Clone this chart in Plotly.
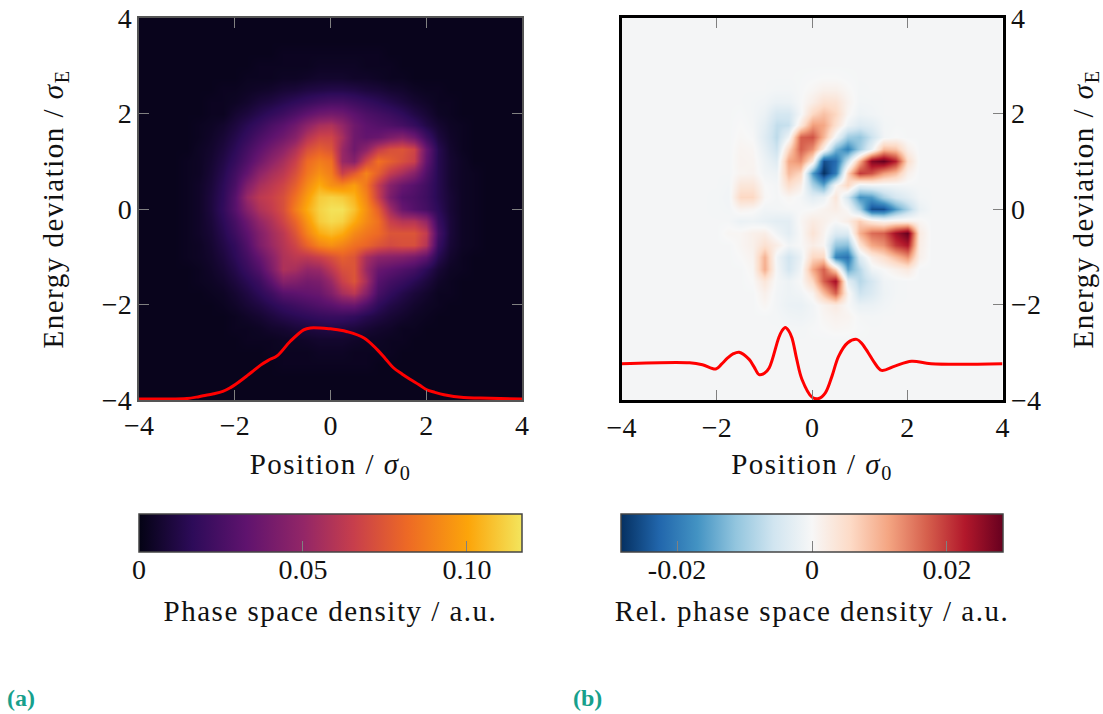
import plotly.graph_objects as go

grid_axis = [i * 0.25 - 4 for i in range(33)]  # -4 .. 4

# phase space density, units of 0.001, rows listed top (y=4) to bottom (y=-4)
density_rows = [
 [2]*33, [2]*33, [2]*33,
 [2,2,2,2,2,2,2, 2,2,2,2,2,3,3,3,3,3,3,3,3,3,2,2,2,2,2, 2,2,2,2,2,2,2],
 [2,2,2,2,2,2,2, 2,2,2,3,3,3,3,3,4,4,4,4,3,3,3,2,2,2,2, 2,2,2,2,2,2,2],
 [2,2,2,2,2,2,2, 2,2,3,3,3,4,4,5,6,6,6,5,5,4,3,3,2,2,2, 2,2,2,2,2,2,2],
 [2,2,2,2,2,2,2, 3,3,4,5,6,8,9,11,12,13,13,12,10,9,7,6,4,3,3, 2,2,2,2,2,2,2],
 [2,2,2,2,2,2,3, 3,4,6,9,11,14,17,20,23,25,25,22,19,16,13,10,7,5,3, 3,2,2,2,2,2,2],
 [2,2,2,2,2,2,3, 3,7,10,14,18,22,27,33,38,40,38,32,27,24,21,17,12,8,4, 3,2,2,2,2,2,2],
 [2,2,2,2,2,3,4, 6,10,15,20,26,31,38,48,56,58,50,38,32,29,27,24,19,12,7, 4,3,2,2,2,2,2],
 [2,2,2,2,2,3,5, 8,13,19,26,32,38,46,60,68,68,56,38,34,36,42,46,38,22,10, 5,3,2,2,2,2,2],
 [2,2,2,2,2,4,6, 10,16,24,32,40,48,58,72,78,74,52,38,48,64,72,74,68,36,14, 6,3,2,2,2,2,2],
 [2,2,2,2,3,4,7, 12,19,28,38,48,56,66,82,88,84,52,46,68,84,78,72,66,34,14, 7,4,2,2,2,2,2],
 [2,2,2,2,3,4,8, 14,23,34,48,56,62,72,86,94,88,66,76,90,78,64,56,46,28,14, 7,4,3,2,2,2,2],
 [2,2,2,2,3,5,9, 16,26,44,56,62,68,78,92,102,94,92,98,86,64,46,36,30,23,14, 7,4,3,2,2,2,2],
 [2,2,2,2,3,5,10, 17,30,52,62,66,72,84,98,110,112,110,104,90,66,42,30,27,22,14, 8,4,3,2,2,2,2],
 [2,2,2,2,3,5,10, 18,30,46,58,64,72,88,102,112,116,116,108,94,78,54,36,29,24,16, 8,4,3,2,2,2,2],
 [2,2,2,2,3,5,9, 16,25,37,50,58,68,80,96,110,114,112,102,92,84,66,60,60,50,20, 9,4,3,2,2,2,2],
 [2,2,2,2,3,5,8, 14,22,32,44,54,62,74,90,102,106,102,92,86,82,74,74,74,64,24, 9,4,3,2,2,2,2],
 [2,2,2,2,3,4,7, 12,18,28,42,52,60,68,80,90,94,90,84,80,74,70,72,72,60,20, 8,4,3,2,2,2,2],
 [2,2,2,2,3,4,6, 10,16,24,34,46,58,62,62,66,72,78,74,56,48,46,44,40,32,14, 6,3,2,2,2,2,2],
 [2,2,2,2,2,3,5, 8,13,20,28,42,58,56,50,52,62,72,74,52,36,32,28,24,16,8, 4,3,2,2,2,2,2],
 [2,2,2,2,2,3,4, 6,10,15,21,32,46,44,40,42,52,66,74,56,30,24,20,15,10,5, 3,2,2,2,2,2,2],
 [2,2,2,2,2,2,3, 4,7,11,16,22,30,32,34,36,44,56,62,46,25,18,13,9,6,3, 3,2,2,2,2,2,2],
 [2,2,2,2,2,2,2, 3,5,8,11,15,19,22,25,28,31,35,36,27,17,12,9,6,4,3, 2,2,2,2,2,2,2],
 [2,2,2,2,2,2,2, 2,3,5,7,10,13,15,17,19,20,20,18,14,11,8,6,4,3,2, 2,2,2,2,2,2,2],
 [2,2,2,2,2,2,2, 2,3,3,4,6,7,9,10,11,12,11,10,8,6,5,3,3,2,2, 2,2,2,2,2,2,2],
 [2,2,2,2,2,2,2, 2,2,3,3,3,4,4,5,6,6,6,5,4,4,3,3,2,2,2, 2,2,2,2,2,2,2],
 [2,2,2,2,2,2,2, 2,2,2,2,3,3,3,3,4,4,4,3,3,3,3,2,2,2,2, 2,2,2,2,2,2,2],
 [2,2,2,2,2,2,2, 2,2,2,2,2,3,3,3,3,3,3,3,3,2,2,2,2,2,2, 2,2,2,2,2,2,2],
 [2]*33, [2]*33, [2]*33,
]

B = -5  # background of the relative density, units of 0.0001
rel_rows = [
 [B]*33, [B]*33, [B]*33, [B]*33, [B]*33,
 [B]*7 + [B,B,B,B,B,B,B,B,-4,-2,0,0,-3,B,B,B,B,B,B] + [B]*7,
 [B]*7 + [B,B,B,B,B,B,-8,-8,-3,5,15,15,3,-6,B,B,B,B,B] + [B]*7,
 [B]*7 + [B,B,B,B,-7,-10,-20,-18,-2,20,45,42,10,-8,-7,B,B,B,B] + [B]*7,
 [B]*7 + [B,B,B,-3,-7,-18,-50,-50,-5,60,85,60,5,-15,-10,B,B,B,B] + [B]*7,
 [B]*7 + [B,B,B,0,-6,-28,-70,-65,30,120,110,45,-15,-40,-30,-8,B,B,B] + [B]*7,
 [B]*7 + [B,B,B,3,-2,-35,-75,-10,170,180,95,-10,-100,-110,-60,-8,0,B,B] + [B]*7,
 [B]*7 + [B,B,B,8,5,-25,-60,60,170,130,15,-130,-190,-100,-20,90,80,15,B] + [B]*7,
 [B]*7 + [B,B,B,10,8,-15,-35,110,130,30,-250,-220,-60,100,260,283,220,50,B] + [B]*7,
 [B]*7 + [B,B,-5,8,10,-10,-15,90,60,-160,-283,-200,60,200,180,120,90,15,B] + [B]*7,
 [B]*7 + [B,B,-8,35,35,0,-6,50,20,-90,-150,0,60,-20,-10,-10,-8,-6,B] + [B]*7,
 [B]*7 + [B,-6,-10,60,60,3,-5,5,-5,-30,-20,35,-50,-170,-160,-90,-50,-30,-8] + [B]*7,
 [B]*7 + [B,-6,-8,10,5,-10,-8,-5,-2,0,10,20,0,-90,-250,-250,-160,-90,-20] + [B]*7,
 [B]*7 + [B,B,-5,-18,-15,-22,-30,-30,5,25,15,0,20,70,30,10,20,20,5] + [B]*7,
 [B]*7 + [B,B,5,5,15,20,-10,-30,0,40,10,-40,-40,100,160,170,240,283,25] + [B]*7,
 [B]*7 + [B,B,B,5,15,45,20,-10,0,20,5,-110,-120,40,110,130,200,230,20] + [B]*7,
 [B]*7 + [B,B,B,0,10,100,-10,-55,-20,60,60,-190,-210,-40,20,50,90,130,15] + [B]*7,
 [B]*7 + [B,B,B,B,5,105,-5,-50,-10,110,170,60,-150,-80,-12,0,15,30,B] + [B]*7,
 [B]*7 + [B,B,B,B,0,35,-5,-15,0,60,170,240,-30,-80,-50,-12,-7,B,B] + [B]*7,
 [B]*7 + [B,B,B,B,B,15,-8,-15,-10,10,90,170,10,-60,-40,-15,-7,B,B] + [B]*7,
 [B]*7 + [B,B,B,B,B,5,-8,-18,-20,-8,10,25,0,-20,-18,-10,B,B,B] + [B]*7,
 [B]*7 + [B,B,B,B,B,B,-6,-12,-14,-8,5,12,8,-5,-7,B,B,B,B] + [B]*7,
 [B]*7 + [B,B,B,B,B,B,B,-6,-7,-3,0,5,3,-3,B,B,B,B,B] + [B]*7,
 [B]*33, [B]*33, [B]*33, [B]*33, [B]*33, [B]*33,
]

profile_a_x = [-4,-3.5,-3,-2.75,-2.6,-2.44,-2.25,-2.09,-1.98,-1.74,-1.6,-1.46,-1.3,-1.11,-0.84,-0.56,-0.42,0,0.15,0.35,0.7,0.97,1.15,1.32,1.5,1.67,1.85,2,2.18,2.37,2.78,3.13,4]
profile_a_y = [-3.98,-3.98,-3.97,-3.93,-3.9,-3.87,-3.82,-3.74,-3.67,-3.49,-3.38,-3.27,-3.17,-3.07,-2.77,-2.53,-2.49,-2.51,-2.53,-2.57,-2.70,-2.94,-3.14,-3.33,-3.46,-3.57,-3.68,-3.78,-3.84,-3.89,-3.95,-3.96,-3.98]
profile_b_x = [-4,-2.57,-2.3,-2.02,-1.9,-1.77,-1.65,-1.53,-1.32,-1.22,-1.11,-1.0,-0.9,-0.7,-0.63,-0.56,-0.49,-0.42,-0.32,-0.21,0,0.14,0.28,0.42,0.56,0.75,0.94,1.05,1.18,1.3,1.46,1.74,2.09,2.5,4]
profile_b_y = [-3.24,-3.22,-3.26,-3.35,-3.25,-3.12,-3.03,-3.0,-3.15,-3.3,-3.47,-3.44,-3.33,-2.7,-2.55,-2.48,-2.55,-2.7,-3.15,-3.57,-3.94,-3.97,-3.85,-3.5,-3.08,-2.8,-2.73,-2.82,-3.01,-3.2,-3.38,-3.29,-3.19,-3.24,-3.24]

axis_ticks = [-4,-2,0,2,4]
axis_labels = ["\u22124","\u22122","0","2","4"]
cbar_a_ticks = [0,0.05,0.10]
cbar_a_labels = ["0","0.05","0.10"]
cbar_b_ticks = [-0.02,0,0.02]
cbar_b_labels = ["-0.02","0","0.02"]

density = [[v*0.001 for v in r] for r in reversed(density_rows)]
relative = [[v*0.0001 for v in r] for r in reversed(rel_rows)]
for m in (density, relative):
    assert len(m) == 33 and all(len(r) == 33 for r in m), [len(r) for r in m]

W, H = 1103, 714
FONT = "Liberation Serif"
INK = "#111111"
GRAY = "#808080"
SIZE = 28

inferno = [[0,"#040314"],[0.14,"#2d0b59"],[0.28,"#5f136e"],[0.43,"#932667"],[0.56,"#c73e4c"],[0.7,"#ed6925"],[0.86,"#fca50a"],[1,"#f3e55d"]]
rdbu = [[0,"#053061"],[0.1,"#2166ac"],[0.2,"#4393c3"],[0.3,"#92c5de"],[0.4,"#d1e5f0"],[0.5,"#f7f7f7"],[0.6,"#fddbc7"],[0.7,"#f4a582"],[0.8,"#d6604d"],[0.9,"#b2182b"],[1,"#67001f"]]

def cbar(x0, x1, vals, labs, title):
    return dict(orientation="h", x=x0/W, xanchor="left", y=1-514/H, yanchor="top",
                len=(x1-x0)/W, lenmode="fraction", thickness=38, thicknessmode="pixels",
                xpad=0, ypad=0, outlinecolor="#444444", outlinewidth=1.5,
                ticks="inside", ticklen=11, tickcolor=GRAY, tickwidth=1,
                tickvals=vals, ticktext=labs, tickfont=dict(family=FONT, size=SIZE, color=INK),
                title=dict(text=title, side="bottom", font=dict(family=FONT, size=29, color=INK)))

fig = go.Figure()
fig.add_trace(go.Heatmap(x=grid_axis, y=grid_axis, z=density, zsmooth="best", zmin=0, zmax=0.1168,
                         colorscale=inferno, xaxis="x", yaxis="y",
                         colorbar=cbar(139,522,cbar_a_ticks,cbar_a_labels,"Phase space density / a.u.")))
fig.add_trace(go.Heatmap(x=grid_axis, y=grid_axis, z=relative, zsmooth="best", zmin=-0.0283, zmax=0.0283,
                         colorscale=rdbu, xaxis="x2", yaxis="y2",
                         colorbar=cbar(621,1003,cbar_b_ticks,cbar_b_labels,"Rel. phase space density / a.u.")))
fig.add_trace(go.Scatter(x=profile_a_x, y=profile_a_y, mode="lines", xaxis="x", yaxis="y", showlegend=False,
                         line=dict(color="#ff0000", width=3, shape="spline", smoothing=1)))
fig.add_trace(go.Scatter(x=profile_b_x, y=profile_b_y, mode="lines", xaxis="x2", yaxis="y2", showlegend=False,
                         line=dict(color="#ff0000", width=3, shape="spline", smoothing=1)))

def ax(**kw):
    d = dict(range=[-4,4], tickvals=axis_ticks, ticktext=axis_labels, ticks="inside", ticklen=10,
             tickcolor=GRAY, tickwidth=1, showgrid=False, zeroline=False, showline=True,
             tickfont=dict(family=FONT, size=SIZE, color=INK))
    d.update(kw)
    return d

tf = dict(family=FONT, size=29, color=INK)
xt = dict(text="Position / <i>\u03c3</i><sub>0</sub>", font=tf, standoff=13)
yt_l = dict(text="Energy deviation / <i>\u03c3</i><sub>E</sub>", font=tf, standoff=30)
yt_r = dict(text="Energy deviation / <i>\u03c3</i><sub>E</sub>", font=tf, standoff=33)

fig.update_layout(
    width=W, height=H, autosize=False, margin=dict(l=0,r=0,t=0,b=0,autoexpand=False),
    paper_bgcolor="white", plot_bgcolor="white", showlegend=False,
    xaxis=ax(domain=[139/W,522/W], anchor="y", mirror="allticks", linecolor="#555555", linewidth=1.5, title=xt),
    yaxis=ax(domain=[1-400/H,1-18/H], anchor="x", mirror="allticks", linecolor="#555555", linewidth=1.5, title=yt_l),
    xaxis2=ax(domain=[621.5/W,1002.5/W], anchor="y2", mirror="allticks", linecolor="#000000", linewidth=3, title=xt),
    yaxis2=ax(domain=[1-400/H,1-18/H], anchor="x2", side="right", mirror=True, linecolor="#000000", linewidth=3, title=yt_r),
    annotations=[
        dict(text="<b>(a)</b>", x=5/W, y=1-698/H, xref="paper", yref="paper", xanchor="left", yanchor="middle",
             showarrow=False, font=dict(family=FONT, size=24, color="#17a08c")),
        dict(text="<b>(b)</b>", x=571/W, y=1-698/H, xref="paper", yref="paper", xanchor="left", yanchor="middle",
             showarrow=False, font=dict(family=FONT, size=24, color="#17a08c")),
    ],
)

post = """
document.body.style.margin='0';document.body.style.overflow='hidden';
var s=document.createElement('style');
s.textContent='.xtitle,.x2title,.ytitle,.y2title,.cbtitle text,.cbtitle{letter-spacing:1.5px} .cbaxis g[class*="tick"]{transform:translateY(-8px)}';
document.head.appendChild(s);
"""
fig.write_html("out.html", config={"displayModeBar": False}, post_script=post)
